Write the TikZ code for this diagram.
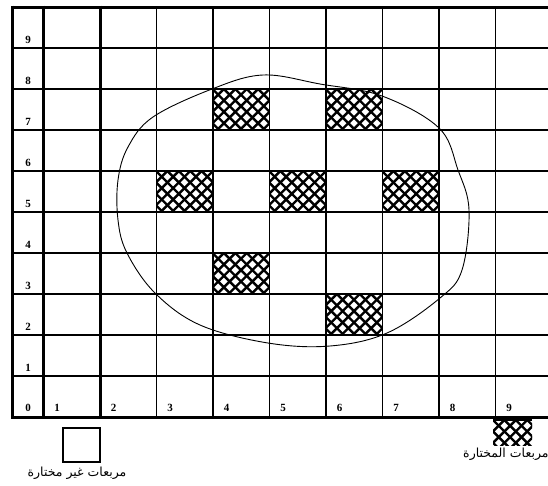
\documentclass[tikz,border=0pt]{standalone}
\usepackage{fontspec}
\setmainfont{Liberation Serif}
\newfontfamily\arabicfont[Script=Arabic]{DejaVu Sans}
\TeXXeTstate=1
\newcommand\hatchcell[4]{%
  \begin{scope}
    \clip (#1,#2) rectangle ++(#3,#4);
    \foreach \k in {-5,...,10}{
      \draw[hatchline] ({#1+\k*11.4},#2) -- ++(60,60);
      \draw[hatchline] ({#1+\k*11.4},#2) -- ++(-60,60);
    }
  \end{scope}}
\begin{document}
\begin{tikzpicture}[x=1pt,y=-1pt,
  gridthin/.style={line width=1.4pt},
  gridh/.style={line width=2.2pt},
  gridhm/.style={line width=1.7pt},
  gridthick/.style={line width=3pt},
  hatchline/.style={line width=2.4pt},
  curveline/.style={line width=0.9pt},
  lbl/.style={font=\bfseries\fontsize{11}{11}\selectfont, inner sep=0pt},
  artxt/.style={font=\arabicfont\fontsize{12.5}{12.5}\selectfont, inner sep=0pt}]
\useasboundingbox (0,0) rectangle (548,485);
\fill[white] (0,0) rectangle (548,485);
% hatched cells
\hatchcell{212.5}{89}{57}{41}
\hatchcell{325.5}{89}{57}{41}
\hatchcell{156}{171}{57}{41}
\hatchcell{269}{171}{57}{41}
\hatchcell{382}{171}{57}{41}
\hatchcell{212.5}{253}{57}{41}
\hatchcell{325.5}{294}{57}{41}
% horizontal lines
\draw[gridthick] (12,7) -- (548,7);
\foreach \y in {48,130,171,253,294,335,376}{\draw[gridh] (12,\y) -- (548,\y);}
\foreach \y in {89,212}{\draw[gridhm] (12,\y) -- (548,\y);}
\draw[gridthick] (12,417) -- (548,417);
% vertical lines
\foreach \x in {12,43,100}{\draw[gridthick] (\x,5.5) -- (\x,418.5);}
\foreach \x in {156.5,213,269.5,326,382.5,439,495.5}{\draw[gridthin] (\x,7) -- (\x,417);}
% closed curve
\draw[curveline] plot[smooth cycle, tension=0.6] coordinates {
 (263,75) (320,84) (382,96) (439,128) (458,170) (469,210) (462,270)
 (440,298) (387,333) (330,346) (268,343) (200,325) (155,293) (127,253)
 (118,220) (118,180) (128,147) (153,117) (212,89)};
% row labels
\foreach \r in {1,...,9}{
  \node[lbl] (row\r) at (28,{7+41*(10-\r)-8}) {\r};
}
\node[lbl] (col0) at (28,408) {0};
\foreach \c in {1,...,9}{
  \node[lbl] (col\c) at ({43+56.5*(\c-1)+14},408) {\c};
}
% legend
\draw[line width=1.3pt] (63,428) rectangle (100,462);
\node[artxt] (legA) at (77,473) {\beginR مربعات غير مختارة\endR};
\hatchcell{493}{420}{39}{25}
\draw[line width=1.3pt] (493,420) -- (532,420);
\node[artxt, anchor=west] (legB) at (463,454) {\beginR مربعات المختارة\endR};
\end{tikzpicture}
\end{document}
